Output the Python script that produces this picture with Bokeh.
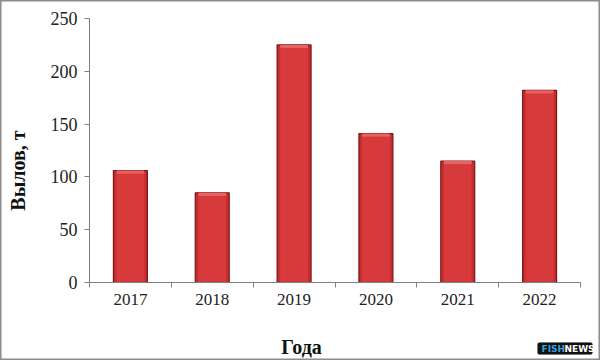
import math
from bokeh.plotting import figure
from bokeh.models import (Range1d, FixedTicker, Label, ColumnDataSource,
                          BoxAnnotation)
from bokeh.embed import file_html
from bokeh.resources import INLINE

years = ["2017", "2018", "2019", "2020", "2021", "2022"]
catch_t = [106, 85, 225, 141, 115, 182]
y_ticks = [0, 50, 100, 150, 200, 250]
y_title = "Вылов, т"
x_title = "Года"

n = len(years)
centers = [i + 0.5 for i in range(n)]
bounds = list(range(n + 1))
src = ColumnDataSource(dict(x=centers, top=catch_t,
                            inner_top=[v - 3 for v in catch_t]))

# canvas layout: plot area from px 89..580 horizontally, 18..282 vertically
W, H = 600, 360
L, R, T, B = 89, 580, 18, 282
sx = (R - L) / n
sy = (B - T) / 250
x_range = Range1d(-L / sx, n + (W - R) / sx)
y_range = Range1d(-(H - B) / sy, 250 + T / sy)

p = figure(width=W, height=H, output_backend="svg", toolbar_location=None,
           x_range=x_range, y_range=y_range,
           min_border_left=0, min_border_right=0, min_border_top=0,
           min_border_bottom=0)
p.outline_line_color = "#8c8c8c"
p.outline_line_width = 2
p.background_fill_color = "white"
p.border_fill_color = "white"
p.xgrid.visible = False
p.ygrid.visible = False

# bars
p.vbar(x="x", top="top", bottom=0, width=0.415, source=src,
       fill_color="#c52d2f", line_color="#7a1616", line_width=1.2)
p.vbar(x="x", top="inner_top", bottom=0, width=0.34, source=src,
       fill_color="#d63a3b", line_color=None)
p.vbar(x="x", top="top", bottom="inner_top", width=0.34, source=src,
       fill_color="#e86262", line_color=None)

# axes drawn at the data origin
serif = "Liberation Serif"
xa = p.xaxis[0]
xa.fixed_location = 0
xa.bounds = (0, n)
xa.ticker = FixedTicker(ticks=centers, minor_ticks=bounds)
xa.major_label_overrides = {c: y for c, y in zip(centers, years)}
xa.major_tick_line_color = None
xa.major_tick_in = 0
xa.major_tick_out = 5
xa.minor_tick_line_color = "#7f7f7f"
xa.minor_tick_in = 0
xa.minor_tick_out = 5
xa.axis_line_color = "#7f7f7f"
xa.major_label_text_font = serif
xa.major_label_text_font_size = "17px"
xa.major_label_text_color = "#222222"
xa.major_label_standoff = 6

ya = p.yaxis[0]
ya.fixed_location = 0
ya.bounds = (0, 250)
ya.ticker = FixedTicker(ticks=y_ticks)
ya.minor_tick_line_color = None
ya.major_tick_in = 0
ya.major_tick_out = 5
ya.major_tick_line_color = "#7f7f7f"
ya.axis_line_color = "#7f7f7f"
ya.major_label_text_font = serif
ya.major_label_text_font_size = "18px"
ya.major_label_text_color = "#222222"
ya.major_label_standoff = 7

# axis titles (screen units, measured from bottom-left of canvas)
p.add_layout(Label(x=17, y=H - 170, x_units="screen", y_units="screen",
                   text=y_title, angle=math.pi / 2, text_font=serif,
                   text_font_style="bold", text_font_size="20px",
                   text_color="#111111", text_align="center",
                   text_baseline="middle"))
p.add_layout(Label(x=301, y=H - 346, x_units="screen", y_units="screen",
                   text=x_title, text_font=serif, text_font_style="bold",
                   text_font_size="20px", text_color="#111111",
                   text_align="center", text_baseline="middle"))

# watermark
p.add_layout(BoxAnnotation(left=537, right=592, bottom=H - 354, top=H - 342,
                           left_units="screen", right_units="screen",
                           top_units="screen", bottom_units="screen",
                           fill_color="#111111", fill_alpha=1.0,
                           line_color="#555555", border_radius=2))
p.add_layout(Label(x=541, y=H - 348, x_units="screen", y_units="screen",
                   text="FISH", text_font="DejaVu Sans",
                   text_font_style="bold", text_font_size="9px",
                   text_color="#3a9fd5", text_baseline="middle"))
p.add_layout(Label(x=564, y=H - 348, x_units="screen", y_units="screen",
                   text="NEWS", text_font="DejaVu Sans",
                   text_font_style="bold", text_font_size="9px",
                   text_color="white", text_baseline="middle"))

open("out.html", "w").write(file_html(p, INLINE))
